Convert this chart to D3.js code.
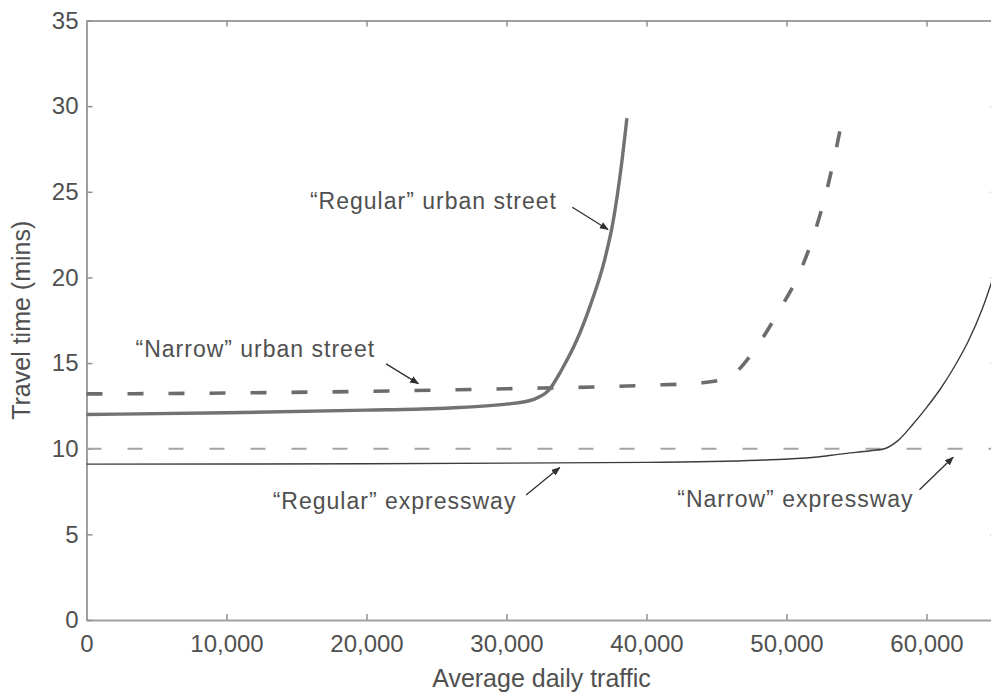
<!DOCTYPE html>
<html>
<head>
<meta charset="utf-8">
<script src="https://cdn.jsdelivr.net/npm/d3@7"></script>
<style>
  body { margin: 0; background: #fff; }
  text { font-family: "Liberation Sans", Arial, sans-serif; fill: #505050; }
</style>
</head>
<body>
<svg id="chart" width="991" height="693"></svg>
<script>
// values: [average daily traffic, travel time in mins]
const regularStreet = [[0, 12.0], [10000, 12.1], [20000, 12.25], [25000, 12.35], [30000, 12.6], [32000, 12.9],
  [33000, 13.4], [34000, 14.7], [35000, 16.3], [36000, 18.4], [37000, 21.0], [37600, 23.2], [38200, 26.5], [38600, 29.3]];
const narrowStreet = [[0, 13.2], [10000, 13.25], [20000, 13.35], [30000, 13.5], [40000, 13.7], [44000, 13.85],
  [46000, 14.2], [47000, 15.0], [48000, 16.1], [49500, 18.1], [51000, 20.4], [52000, 22.6], [53000, 25.5], [54000, 29.3]];
const regularExpressway = [[0, 9.1], [20000, 9.12], [40000, 9.2], [48000, 9.33], [52000, 9.5], [54000, 9.7],
  [56000, 9.88], [57000, 10.0], [58000, 10.5], [59000, 11.4], [60000, 12.4], [61000, 13.5], [62000, 14.8],
  [63000, 16.3], [64000, 18.2], [65000, 20.6]];
const narrowExpressway = [[0, 10.0], [65000, 10.0]];

const xTicks = [0, 10000, 20000, 30000, 40000, 50000, 60000];
const yTicks = [0, 5, 10, 15, 20, 25, 30, 35];

// labels: text position, arrow start and arrow tip, in data units
const labels = [
  {text: "\u201cRegular\u201d urban street", at: [15960, 24.0], from: [34700, 24.1], to: [37250, 22.8]},
  {text: "\u201cNarrow\u201d urban street", at: [3500, 15.35], from: [21400, 14.95], to: [23700, 13.8]},
  {text: "\u201cRegular\u201d expressway", at: [13300, 6.46], from: [31400, 7.3], to: [33800, 8.9]},
  {text: "\u201cNarrow\u201d expressway", at: [42200, 6.58], from: [59500, 7.6], to: [61900, 9.5]}
];

const margin = {top: 20.5, left: 86.5};
const width = 910, height = 599.5;

const svg = d3.select("#chart");
const g = svg.append("g").attr("transform", "translate(" + margin.left + "," + margin.top + ")");

const x = d3.scaleLinear().domain([0, 65000]).range([0, width]);
const y = d3.scaleLinear().domain([0, 35]).range([height, 0]);

// frame and inward ticks
function styleAxis(sel) {
  sel.select(".domain").attr("stroke", "#a0a0a0").attr("stroke-width", 2);
  sel.selectAll(".tick line").attr("stroke", "#909090").attr("stroke-width", 1.5);
  sel.selectAll("text").style("font-size", "24px").attr("fill", "#555");
}

g.append("g")
  .attr("transform", "translate(0," + height + ")")
  .call(d3.axisBottom(x).tickValues(xTicks).tickFormat(d3.format(",")).tickSizeInner(-6).tickSizeOuter(0).tickPadding(15))
  .call(styleAxis);
g.append("g")
  .call(d3.axisTop(x).tickValues(xTicks).tickFormat("").tickSizeInner(-6).tickSizeOuter(0))
  .call(styleAxis);
g.append("g")
  .call(d3.axisLeft(y).tickValues(yTicks).tickSizeInner(-6).tickSizeOuter(0).tickPadding(8))
  .call(styleAxis);
g.append("g")
  .attr("transform", "translate(" + width + ",0)")
  .call(d3.axisRight(y).tickValues(yTicks).tickFormat("").tickSizeInner(-6).tickSizeOuter(0))
  .call(styleAxis);

const line = d3.line()
  .x(d => x(d[0]))
  .y(d => y(d[1]))
  .curve(d3.curveMonotoneX);

g.append("path").datum(narrowExpressway)
  .attr("d", line).attr("fill", "none")
  .attr("stroke", "#a4a4a4").attr("stroke-width", 2).attr("stroke-dasharray", "15,26");

g.append("path").datum(regularExpressway)
  .attr("d", line).attr("fill", "none")
  .attr("stroke", "#3c3c3c").attr("stroke-width", 1.4);

g.append("path").datum(narrowStreet)
  .attr("d", line).attr("fill", "none")
  .attr("stroke", "#6c6c6c").attr("stroke-width", 3.6).attr("stroke-dasharray", "16,25");

g.append("path").datum(regularStreet)
  .attr("d", line).attr("fill", "none")
  .attr("stroke", "#727272").attr("stroke-width", 3.4);

// annotations
svg.append("defs").append("marker")
  .attr("id", "head")
  .attr("viewBox", "0 0 10 10")
  .attr("refX", 9).attr("refY", 5)
  .attr("markerWidth", 9).attr("markerHeight", 9)
  .attr("markerUnits", "userSpaceOnUse")
  .attr("orient", "auto")
  .append("path").attr("d", "M0,1 L10,5 L0,9 Z").attr("fill", "#303030");

labels.forEach(l => {
  g.append("text")
    .attr("x", x(l.at[0])).attr("y", y(l.at[1]))
    .style("font-size", "23px")
    .style("letter-spacing", "1px")
    .text(l.text);
  g.append("line")
    .attr("x1", x(l.from[0])).attr("y1", y(l.from[1]))
    .attr("x2", x(l.to[0])).attr("y2", y(l.to[1]))
    .attr("stroke", "#303030").attr("stroke-width", 1.3)
    .attr("marker-end", "url(#head)");
});

// axis titles
svg.append("text")
  .attr("x", margin.left + width / 2).attr("y", 687)
  .attr("text-anchor", "middle")
  .style("font-size", "25px")
  .text("Average daily traffic");

svg.append("text")
  .attr("transform", "translate(30," + (margin.top + height / 2) + ") rotate(-90)")
  .attr("text-anchor", "middle")
  .style("font-size", "25px")
  .text("Travel time (mins)");
</script>
</body>
</html>
